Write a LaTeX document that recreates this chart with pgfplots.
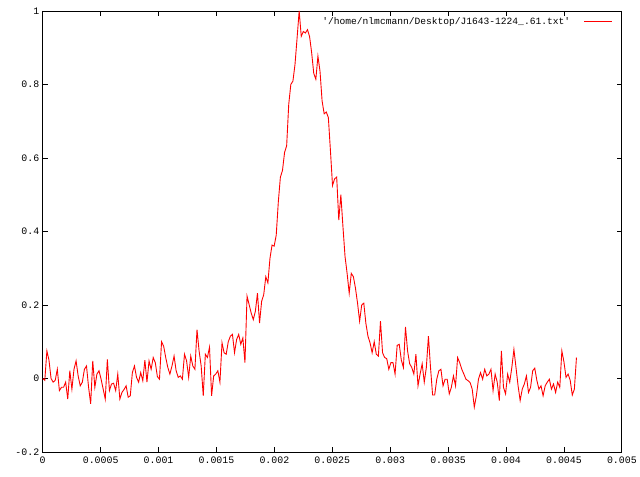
\documentclass[border=0pt]{standalone}
\usepackage{fontspec}
\setmonofont{Liberation Mono}
\usepackage{pgfplots}
\pgfplotsset{compat=1.18}
\usepackage{pgfplotstable}
\pgfplotstableread{
y
0.000
-0.005
0.075
0.050
0.000
-0.010
-0.005
0.025
-0.033
-0.024
-0.024
-0.010
-0.056
0.021
-0.029
0.025
0.048
0.007
-0.020
-0.010
0.025
0.034
-0.024
-0.069
0.048
-0.024
0.012
0.021
-0.002
-0.029
-0.056
0.052
-0.033
-0.015
-0.013
-0.033
0.012
-0.056
-0.038
-0.030
-0.020
-0.051
-0.047
0.016
0.034
0.003
-0.010
0.016
-0.006
0.050
-0.010
0.048
0.025
0.057
0.043
0.005
-0.002
0.100
0.088
0.057
0.030
0.012
0.034
0.061
0.021
0.003
0.007
-0.002
0.066
0.048
0.003
0.061
0.034
0.025
0.133
0.075
0.034
-0.047
0.066
0.057
0.085
-0.047
0.007
0.012
0.021
-0.010
0.097
0.070
0.066
0.100
0.115
0.120
0.070
0.106
0.120
0.093
0.110
0.043
0.224
0.201
0.178
0.160
0.183
0.232
0.151
0.210
0.228
0.277
0.260
0.327
0.363
0.360
0.390
0.480
0.548
0.566
0.615
0.633
0.746
0.800
0.809
0.854
0.926
1.000
0.931
0.944
0.940
0.949
0.930
0.886
0.830
0.814
0.877
0.836
0.755
0.720
0.725
0.710
0.620
0.525
0.543
0.548
0.431
0.500
0.413
0.332
0.286
0.232
0.286
0.277
0.246
0.205
0.156
0.200
0.205
0.150
0.115
0.097
0.070
0.100
0.066
0.061
0.156
0.070
0.057
0.054
0.025
0.043
0.043
0.012
0.090
0.093
0.050
0.030
0.140
0.075
0.040
0.030
0.012
0.066
-0.020
0.012
0.040
-0.010
0.030
0.115
0.030
-0.045
-0.045
-0.002
0.021
0.025
-0.020
-0.002
-0.002
-0.042
-0.024
0.007
-0.020
0.057
0.043
0.025
0.012
-0.002
-0.006
-0.011
-0.029
-0.078
-0.047
-0.002
0.016
-0.002
0.025
0.007
0.012
0.025
-0.033
0.012
-0.010
-0.060
0.075
-0.024
-0.042
0.012
-0.010
0.030
0.079
0.030
-0.020
-0.060
-0.029
-0.015
0.007
-0.038
-0.024
0.021
0.028
-0.005
-0.029
-0.020
-0.047
-0.020
-0.010
-0.002
-0.029
-0.015
-0.038
-0.010
-0.024
0.075
0.045
0.003
0.012
-0.005
-0.045
-0.029
0.057
}\profile
\begin{document}
\begin{tikzpicture}
\path (0bp,0bp) rectangle (640bp,480bp);
\begin{axis}[
  at={(43bp,25bp)}, anchor=south west,
  scale only axis, width=583bp, height=444bp,
  xmin=0, xmax=0.005, ymin=-0.2, ymax=1,
  xtick={0,0.0005,0.001,0.0015,0.002,0.0025,0.003,0.0035,0.004,0.0045,0.005},
  xticklabels={0,0.0005,0.001,0.0015,0.002,0.0025,0.003,0.0035,0.004,0.0045,0.005},
  ytick={-0.2,0,0.2,0.4,0.6,0.8,1},
  yticklabels={-0.2,0,0.2,0.4,0.6,0.8,1},
  scaled x ticks=false, scaled y ticks=false,
  tick align=inside, xtick pos=both, ytick pos=both,
  major tick length=5bp,
  tick style={black, line width=0.8bp},
  axis line style={black, line width=0.8bp},
  tick label style={font=\ttfamily\fontsize{10}{12}\selectfont, black},
  xticklabel style={yshift=-1bp},
  legend plot pos=right,
  legend cell align=right,
  legend style={draw=none, fill=none, at={(1,1)}, anchor=north east,
    xshift=-6bp, yshift=-2bp, column sep=12bp,
    font=\ttfamily\fontsize{9.7}{11}\selectfont},
  legend image code/.code={\draw[#1] (0bp,0bp) -- (28bp,0bp);},
]
\addplot[red, line width=0.9bp, mark=none] table[x expr=\coordindex*0.000018, y=y] {\profile};
\addlegendentry{'/home/nlmcmann/Desktop/J1643-1224\_.61.txt'}
\end{axis}
\end{tikzpicture}
\end{document}
